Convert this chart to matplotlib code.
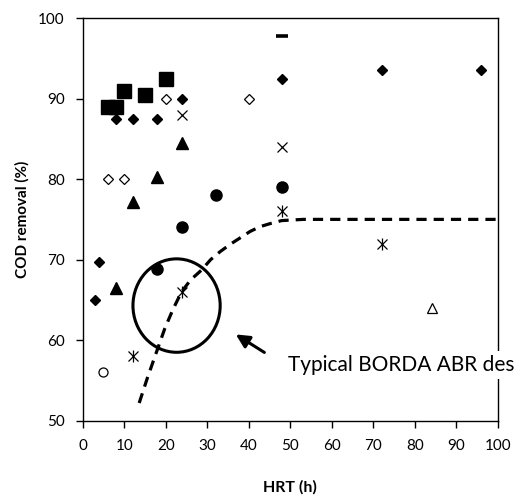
import numpy as np
import matplotlib
matplotlib.use("Agg")
import matplotlib.pyplot as plt
from matplotlib.patches import Ellipse

plt.rcParams.update({
    "font.family": ["Lato", "DejaVu Sans"], "font.size": 11,
})

# --- data (HRT in h, COD removal in %) ---
sq_x = [6, 8, 10, 15, 20]
sq_y = [88.9, 88.9, 91.0, 90.4, 92.4]

dia_x = [3, 4, 8, 12, 18, 24, 48, 72, 96]
dia_y = [65.0, 69.7, 87.5, 87.5, 87.5, 89.9, 92.4, 93.6, 93.6]

odia_x = [6, 10, 20, 40]
odia_y = [80, 80, 90, 90]

tri_x = [8, 12, 18, 24]
tri_y = [66.5, 77.2, 80.2, 84.5]

circ_x = [18, 24, 32, 48]
circ_y = [68.8, 74.0, 78.0, 79.0]

cross_x = [24, 48]
cross_y = [88, 84]

ast_x = [12, 24, 48, 72]
ast_y = [58, 66, 76, 72]

ocirc_x = [5]
ocirc_y = [56]

otri_x = [84]
otri_y = [64]

dash_x = [48]
dash_y = [97.8]

# dashed design curve
curve_x = [13.6, 15.5, 17.4, 19.8, 21.8, 23.8, 26.0, 28.6, 30.8, 33.1, 35.5, 37.9, 40.3, 42.7, 45.3, 47.9, 53.1, 60, 70, 80, 90, 100]
curve_y = [52.2, 55.2, 58.0, 61.5, 63.9, 66.0, 67.5, 68.7, 70.0, 71.0, 71.9, 72.7, 73.5, 74.1, 74.5, 74.85, 75.0, 75.0, 75.0, 75.0, 75.0, 75.0]

fig = plt.figure(figsize=(5.15, 4.95), dpi=100)
ax = fig.add_axes([0.1606, 0.150, 0.8064, 0.8136])

k = dict(ls="none", color="black", zorder=3)
ax.plot(curve_x, curve_y, color="black", lw=2.3, dashes=(3.2, 2.2), zorder=2)
ax.plot(sq_x, sq_y, marker="s", ms=10.5, **k)
ax.plot(dia_x, dia_y, marker="D", ms=5.5, **k)
ax.plot(odia_x, odia_y, marker="D", ms=5.5, mfc="white", mew=0.9, **k)
ax.plot(tri_x, tri_y, marker="^", ms=8, **k)
ax.plot(circ_x, circ_y, marker="o", ms=8, **k)
ax.plot(cross_x, cross_y, marker="x", ms=7.5, mew=0.9, **k)
ax.plot(ast_x, ast_y, marker="x", ms=6.5, mew=0.9, **k)
ax.plot(ast_x, ast_y, marker="|", ms=8, mew=0.9, **k)
ax.plot(ocirc_x, ocirc_y, marker="o", ms=6.5, mfc="white", mew=0.9, **k)
ax.plot(otri_x, otri_y, marker="^", ms=7, mfc="white", mew=0.9, **k)
ax.plot(dash_x, dash_y, marker="_", ms=8, mew=2.6, **k)

ax.add_patch(Ellipse((22.6, 64.3), 21.0, 11.6, fill=False, lw=2.2, color="black", zorder=3))
ax.annotate("", xy=(36.3, 60.9), xytext=(44.3, 58.3),
            arrowprops=dict(arrowstyle="-|>", lw=2.2, color="black", mutation_scale=20))
ax.text(49.4, 56.9, "Typical BORDA ABR des", fontsize=15, va="center", ha="left",
        bbox=dict(facecolor="white", edgecolor="none", pad=3), zorder=5, clip_on=False)

ax.set_xlim(0, 100)
ax.set_ylim(50, 100)
ax.set_xticks(np.arange(0, 101, 10))
ax.set_yticks(np.arange(50, 101, 10))
ax.tick_params(direction="out", length=5, width=1, pad=8, labelsize=11)
for s in ax.spines.values():
    s.set_linewidth(1)
ax.set_xlabel("HRT (h)", fontweight="bold", fontsize=11.5, labelpad=20)
ax.set_ylabel("COD removal (%)", fontweight="bold", fontsize=11, labelpad=6)

fig.savefig("out.png", dpi=100)
